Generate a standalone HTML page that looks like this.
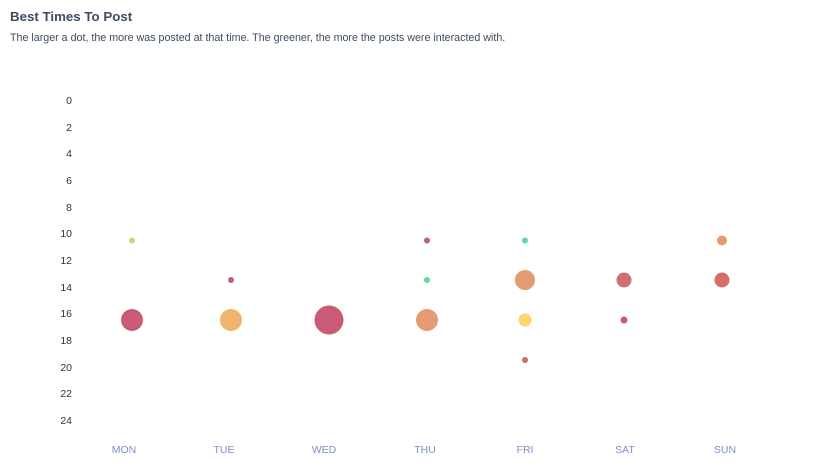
<!DOCTYPE html><html><head><style>body{margin:0;background:#fff;width:828px;height:465px;overflow:hidden;font-family:"Liberation Sans",sans-serif}</style></head><body>
<svg width="828" height="465" xmlns="http://www.w3.org/2000/svg" font-family="Liberation Sans, sans-serif">
<text x="10" y="21" font-size="13.3" font-weight="bold" fill="#3d4a66">Best Times To Post</text>
<text x="10" y="41" font-size="10.7" fill="#3d4a66">The larger a dot, the more was posted at that time. The greener, the more the posts were interacted with.</text>
<g font-size="10.5" fill="#333" text-anchor="end">
<text x="72" y="104">0</text><text x="72" y="131">2</text><text x="72" y="157">4</text><text x="72" y="184">6</text><text x="72" y="211">8</text><text x="72" y="237">10</text><text x="72" y="264">12</text><text x="72" y="291">14</text><text x="72" y="317">16</text><text x="72" y="344">18</text><text x="72" y="371">20</text><text x="72" y="397">22</text><text x="72" y="424">24</text>
</g>
<g font-size="10.5" fill="#7a8fc4" text-anchor="middle">
<text x="124" y="453">MON</text><text x="224" y="453">TUE</text><text x="324" y="453">WED</text><text x="425" y="453">THU</text><text x="525" y="453">FRI</text><text x="625" y="453">SAT</text><text x="725" y="453">SUN</text>
</g>
<g>
<circle cx="132" cy="240.5" r="3" fill="#c6d67a"/>
<circle cx="132" cy="320" r="11" fill="#c95c74"/>
<circle cx="231" cy="280" r="3" fill="#c95c74"/>
<circle cx="231" cy="320" r="11" fill="#f0b46e"/>
<circle cx="329" cy="320" r="14.5" fill="#c95c74"/>
<circle cx="427" cy="240.5" r="3" fill="#c95c74"/>
<circle cx="427" cy="280" r="3" fill="#5cdc98"/>
<circle cx="427" cy="320" r="11" fill="#e49a72"/>
<circle cx="525" cy="240.5" r="3" fill="#5cdc98"/>
<circle cx="525" cy="280" r="10" fill="#e49a72"/>
<circle cx="525" cy="320" r="6.5" fill="#fdd56a"/>
<circle cx="525" cy="360" r="3" fill="#cd6a6a"/>
<circle cx="624" cy="280" r="7.5" fill="#d46e6e"/>
<circle cx="624" cy="320" r="3.5" fill="#c95c74"/>
<circle cx="722" cy="240.5" r="5" fill="#e49a72"/>
<circle cx="722" cy="280" r="7.5" fill="#d47068"/>
</g>
</svg></body></html>
